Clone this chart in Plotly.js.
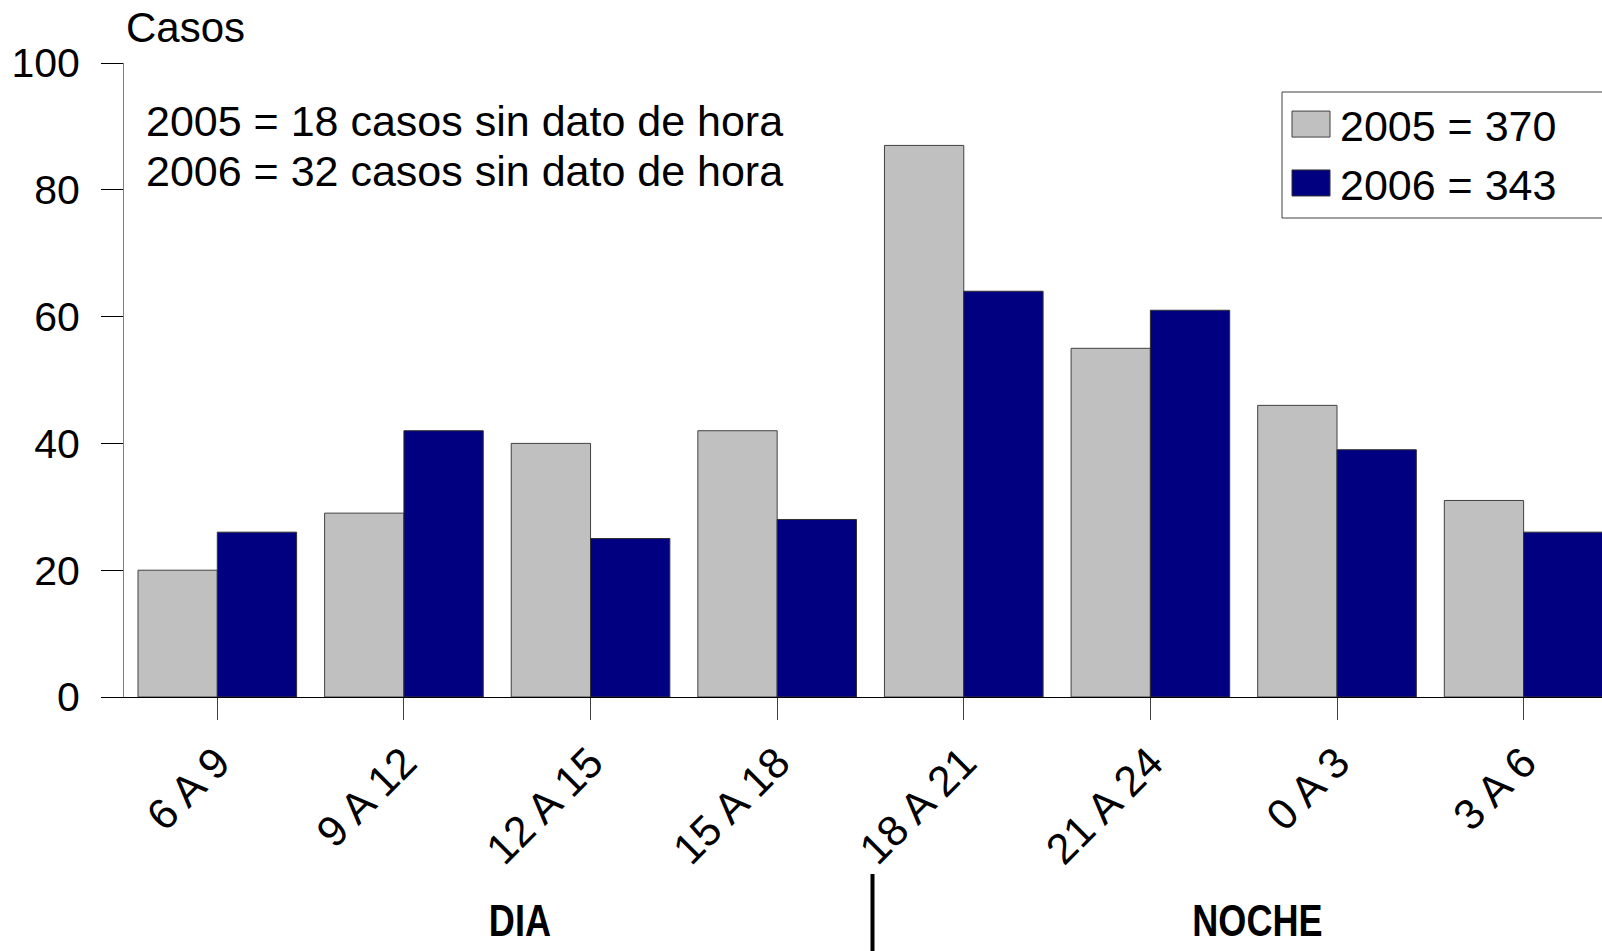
<!DOCTYPE html>
<html>
<head>
<meta charset="utf-8">
<script src="https://cdn.plot.ly/plotly-3.0.1.min.js"></script>
<style>
html,body{margin:0;padding:0;background:#fff;}
#chart{width:1602px;height:951px;}
</style>
</head>
<body>
<div id="chart"></div>
<script>
// ---- data ----
var categories = ['6 A 9', '9 A 12', '12 A 15', '15 A 18', '18 A 21', '21 A 24', '0 A 3', '3 A 6'];
var casos2005 = [20, 29, 40, 42, 87, 55, 46, 31];
var casos2006 = [26, 42, 25, 28, 64, 61, 39, 26];
var seriesNames = ['2005 = 370', '2006 = 343'];
var noteLines = ['2005 = 18 casos sin dato de hora', '2006 = 32 casos sin dato de hora'];
var periodLabels = ['DIA', 'NOCHE'];
var yTitle = 'Casos';

var FONT = 'Arial, "Liberation Sans", sans-serif';
var NARROW = '"Liberation Sans Narrow", "Arial Narrow", Arial, "Liberation Sans", sans-serif';

var traces = [
  {type: 'bar', x: categories, y: casos2005, name: seriesNames[0],
   marker: {color: '#C0C0C0', line: {color: '#404040', width: 1}}},
  {type: 'bar', x: categories, y: casos2006, name: seriesNames[1],
   marker: {color: '#000080', line: {color: '#303030', width: 1}}}
];

var layout = {
  width: 1602, height: 951,
  margin: {l: 124, r: 0, t: 63, b: 254, autoexpand: false},
  paper_bgcolor: '#fff', plot_bgcolor: '#fff',
  font: {family: FONT, color: '#000', size: 40},
  barmode: 'group', bargap: 0.15, bargroupgap: 0,
  showlegend: true,
  legend: {
    x: 0.7835, y: 0.958, xanchor: 'left', yanchor: 'top',
    bgcolor: 'rgba(0,0,0,0)', borderwidth: 0,
    font: {family: FONT, size: 43, color: '#000'},
    itemwidth: 48, tracegroupgap: 0
  },
  xaxis: {
    type: 'category', range: [-0.5, 7.42], fixedrange: true,
    showline: true, linecolor: '#000', linewidth: 1,
    ticks: 'outside', ticklen: 22, tickcolor: '#404040', tickwidth: 1,
    tickangle: -45, tickfont: {family: FONT, size: 43, color: '#000'},
    showgrid: false, zeroline: false
  },
  yaxis: {
    range: [0, 100], dtick: 20, fixedrange: true,
    showline: true, linecolor: '#808080', linewidth: 1,
    ticks: 'outside', ticklen: 22, tickcolor: '#000', tickwidth: 1,
    ticklabelstandoff: 13,
    tickfont: {family: FONT, size: 41, color: '#000'},
    showgrid: false, zeroline: false
  },
  shapes: [
    {type: 'rect', xref: 'paper', yref: 'paper', x0: 0.7835, x1: 1.2, y0: (697-218)/634, y1: (697-92)/634,
     line: {color: '#404040', width: 1}, fillcolor: 'rgba(0,0,0,0)', layer: 'below'},
    {type: 'line', xref: 'paper', yref: 'paper', x0: (872.5-124)/1478, x1: (872.5-124)/1478,
     y0: (697-874)/634, y1: (697-955)/634, line: {color: '#000', width: 4}}
  ],
  annotations: [
    {text: yTitle, xref: 'paper', yref: 'paper', x: 0, y: (697-28)/634, xanchor: 'left', yanchor: 'middle',
     showarrow: false, font: {family: FONT, size: 42, color: '#000'}},
    {text: noteLines[0], xref: 'paper', yref: 'paper', x: (144-124)/1478, y: (697-121)/634, xanchor: 'left', yanchor: 'middle',
     showarrow: false, font: {family: FONT, size: 43, color: '#000'}},
    {text: noteLines[1], xref: 'paper', yref: 'paper', x: (144-124)/1478, y: (697-171)/634, xanchor: 'left', yanchor: 'middle',
     showarrow: false, font: {family: FONT, size: 43, color: '#000'}},
    {text: '<b>' + periodLabels[0] + '</b>', xref: 'paper', yref: 'paper', x: (520-124)/1478, y: (697-920)/634,
     xanchor: 'center', yanchor: 'middle', showarrow: false, font: {family: NARROW, size: 44, color: '#000'}},
    {text: '<b>' + periodLabels[1] + '</b>', xref: 'paper', yref: 'paper', x: (1257-124)/1478, y: (697-920)/634,
     xanchor: 'center', yanchor: 'middle', showarrow: false, font: {family: NARROW, size: 44, color: '#000'}}
  ]
};

Plotly.newPlot('chart', traces, layout, {displayModeBar: false, staticPlot: true}).then(function () {
  document.querySelectorAll('.legendpoints path').forEach(function (p) {
    p.setAttribute('d', 'M19,13H-19V-13H19Z');
  });
  // condense the bold period labels (narrow font look)
  document.querySelectorAll('.annotation-text').forEach(function (t) {
    var s = t.textContent;
    if (periodLabels.indexOf(s) >= 0) {
      var b = t.getBBox();
      var cx = b.x + b.width / 2;
      var prev = t.getAttribute('transform') || '';
      t.setAttribute('transform', prev + ' translate(' + cx + ',0) scale(0.82,1) translate(' + (-cx) + ',0)');
    }
  });
});
</script>
</body>
</html>
